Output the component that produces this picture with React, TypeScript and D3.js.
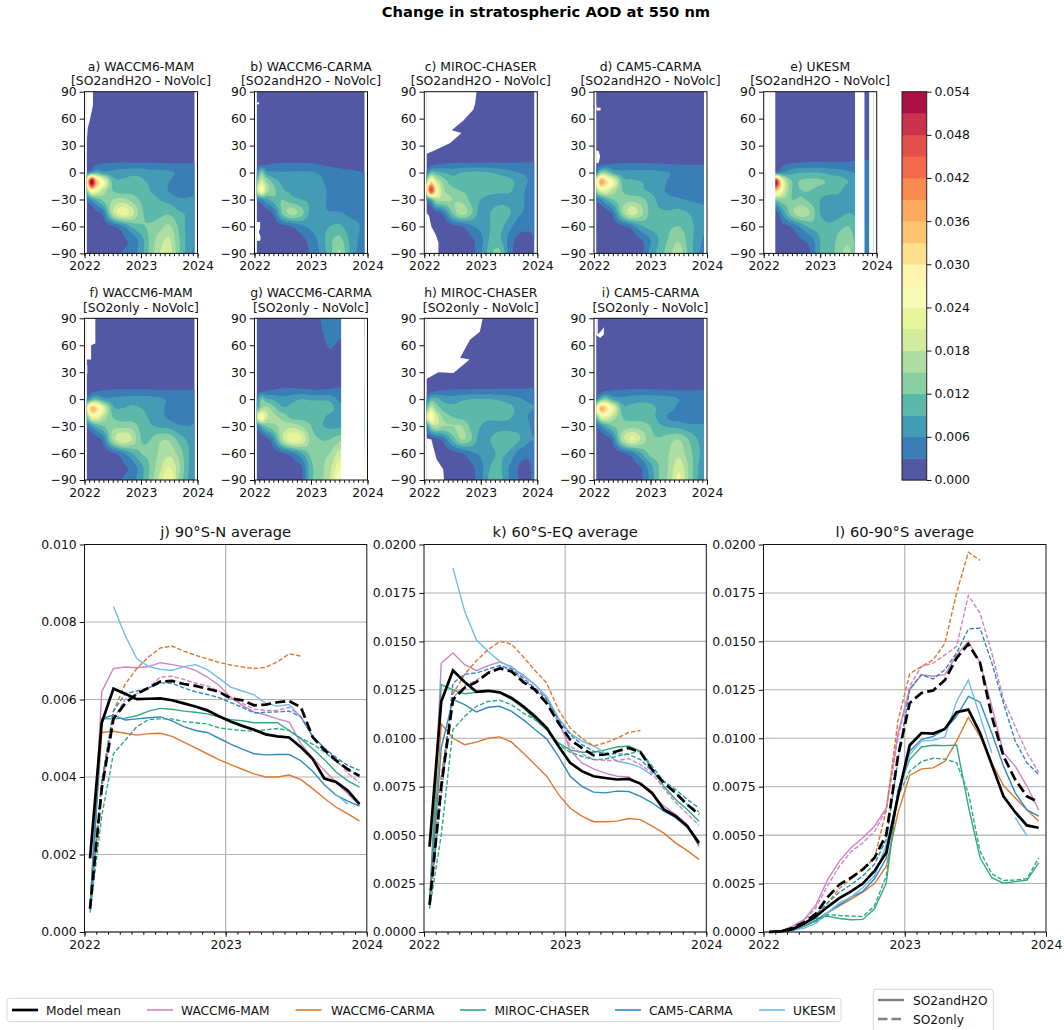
import React, { useEffect, useRef } from 'react';
import * as d3 from 'd3';

// contour levels and colours, AOD in units of 0.001
const bandColors = ['#5358a5', '#3a7eb8', '#439bb5', '#5cb8a8', '#88cfa4', '#addda2', '#d0ec9c', '#e8f59b', '#f8fbb4',
    '#fef5ae', '#fde08b', '#fdc372', '#fdaa60', '#f98a50', '#f4694a', '#e35049', '#cb334c', '#ab1044'];
const colorbarTicks = [0, 0.006, 0.012, 0.018, 0.024, 0.03, 0.036, 0.042, 0.048, 0.054];

const gridMonths = [0.5, 1.5, 2.5, 4, 6, 8, 10, 12, 14, 16, 18, 20, 22, 23.5];
const gridLats = [90, 50, 20, 10, 0, -10, -20, -30, -45, -60, -75, -90];
const quietNorth = [
    [0.6, 0.6, 0.6, 0.6, 0.6, 0.6, 0.6, 0.6, 0.6, 0.6, 0.6, 0.6, 0.6, 0.6],
    [0.6, 0.6, 0.6, 0.6, 0.7, 0.7, 0.7, 0.7, 0.7, 0.7, 0.7, 0.7, 0.7, 0.7],
    [0.8, 0.9, 1, 1.1, 1.2, 1.2, 1.2, 1.2, 1.2, 1.2, 1.2, 1.2, 1.2, 1.2],
];
const carmaSo2North = [
    [0.6, 0.6, 0.6, 0.6, 0.6, 0.7, 0.8, 1, 3, 4, 4, 4, 4, 4],
    [0.6, 0.6, 0.6, 0.6, 0.7, 0.7, 0.7, 0.8, 2, 2.8, 2.3, 2, 2, 2],
    [0.8, 0.9, 1, 1.1, 1.2, 1.2, 1.2, 1.2, 1.2, 1.4, 1.4, 1.4, 1.4, 1.4],
];

const mamBothGrid = [
    [1.5, 2, 2.5, 3, 3.3, 3.4, 3.4, 3.4, 3.3, 3.2, 3.1, 3.1, 3.1, 3.2],
    [4, 8, 10, 7.5, 7, 7.5, 8, 8, 7, 7, 6.5, 5.5, 5.3, 5.4],
    [28, 56, 36, 25, 11, 9.5, 10, 9.5, 8.5, 7.5, 6, 4.8, 4.5, 4.5],
    [14, 28, 24, 17, 12, 10.5, 11, 10.5, 9, 7.8, 5.8, 4.5, 4.4, 4.6],
    [4, 7, 10, 13, 15, 16, 14, 11.5, 10, 9, 8, 6.5, 6.5, 6.8],
    [0.5, 1, 2, 4.5, 17, 22.5, 19.5, 13, 10.5, 11, 11.5, 9.5, 8.5, 7],
    [0.3, 0.5, 0.8, 1.3, 2.6, 5.5, 9.5, 11.5, 12.5, 14, 15.5, 11.5, 8, 6.5],
    [0.2, 0.3, 0.5, 0.8, 1.2, 2.4, 4, 7.5, 13, 16.5, 18.5, 12.5, 8, 6],
    [0.2, 0.3, 0.4, 0.6, 0.9, 3, 4.5, 7.5, 13, 18, 19.5, 13, 7.5, 5.5],
];
const carmaBothGrid = [
    [1.3, 2, 2.4, 3, 3.2, 3.2, 3.2, 3.1, 2.6, 2.3, 2, 2, 1.9, 1.8],
    [6, 13, 7.5, 6.5, 6.2, 6.3, 6.4, 6.3, 5.5, 4.5, 3.8, 3.5, 3.2, 3],
    [13, 20, 15, 11, 8, 8, 8, 7.5, 6.5, 5, 4.2, 3.8, 3.8, 3.5],
    [18, 26, 17, 13, 9.5, 8.5, 8.5, 8, 7, 5.5, 4.5, 4.2, 4, 4],
    [3.5, 6, 8, 10.5, 12, 10, 9, 8.5, 7, 5.5, 5, 4.6, 4.3, 4],
    [0.4, 0.8, 1.5, 3.5, 12.5, 16, 13, 8, 6.5, 6.2, 6.2, 5.5, 5, 4.5],
    [0.3, 0.3, 0.5, 1, 2, 3.3, 5.5, 6.6, 7.5, 9, 9.6, 7.5, 6.3, 5],
    [0.2, 0.2, 0.3, 0.5, 0.8, 1.2, 2, 4.5, 7, 11, 13, 9, 6, 4],
    [0.2, 0.2, 0.3, 0.4, 0.7, 1, 1.5, 3.5, 6.5, 10.5, 15.5, 9.5, 5.5, 3.5],
];
const mirocBothGrid = [
    [1, 1.5, 2.2, 3, 3.2, 3.3, 3.3, 3.4, 3.4, 3.4, 3.3, 3.3, 3.3, 3.3],
    [5, 11, 10, 9, 8, 9, 9.5, 9.5, 9, 8, 7, 6, 5.5, 5.5],
    [18, 30, 20, 14, 10.5, 11, 11.7, 11.8, 11.5, 11, 10, 8, 6, 6],
    [30, 48, 28, 16, 13, 11.8, 11.5, 11, 10.5, 10, 9.5, 7.5, 5.5, 5.5],
    [5, 10, 16, 16, 15, 14, 11, 9, 7.5, 7.5, 8, 7, 5.5, 5],
    [0.3, 0.5, 2, 4, 12, 16.5, 12.5, 7.5, 9, 11.5, 9.5, 6.5, 5.5, 5],
    [0, 0.3, 0.5, 1, 2, 3, 5.5, 7, 9, 10, 7, 4.5, 4, 4],
    [0, 0, 0.3, 0.5, 1, 1.5, 2.5, 5, 9.5, 9.5, 5, 2, 1.5, 3],
    [0, 0, 0.2, 0.4, 0.8, 1.2, 2, 5.5, 11, 13, 5, 1.5, 1.5, 3],
];
const cam5BothGrid = [
    [1, 1.5, 2.3, 3, 3.1, 3.2, 3.2, 3.1, 3, 2.9, 2.8, 2.8, 2.8, 2.9],
    [6, 14, 14, 9, 7, 7, 7, 7, 6.5, 6, 5, 4.3, 3.8, 3.6],
    [24, 38, 32, 24, 11, 9.5, 9, 8.5, 7.5, 5.5, 4.6, 4.2, 4, 4],
    [15, 22, 22, 17, 12, 10, 9.5, 8.5, 7, 5.2, 4.6, 4.2, 4, 4],
    [4, 6, 9, 12, 13.5, 14, 13, 10.5, 8, 7, 6.5, 5.8, 5.5, 5.5],
    [0.5, 0.8, 1.5, 4, 14, 19.5, 16, 11, 9.5, 9.5, 10, 9, 7.5, 6.5],
    [0.3, 0.4, 0.6, 1.2, 2.2, 4.5, 8.5, 10, 10.5, 11.5, 12, 10.5, 8, 6.5],
    [0.2, 0.3, 0.4, 0.7, 1, 1.8, 2.8, 6, 9.5, 12.5, 14.5, 11, 7.5, 5.5],
    [0.2, 0.2, 0.3, 0.5, 0.8, 1.3, 2, 7, 10.5, 14, 17, 11.5, 7, 5],
];
const ukesmBothGrid = [
    [1, 1, 1.5, 2.5, 3.2, 3.4, 3.6, 3.6, 3.6, 3.4, 3.6, 3.9, 4, 4],
    [4, 4, 5, 6.5, 8, 9, 9, 9, 8, 7.5, 6.5, 5.5, 4, 4],
    [35, 45, 54, 24, 12, 12.5, 13, 12.5, 11.5, 10.5, 9, 7, 4, 4],
    [25, 30, 36, 22, 12, 12, 12, 10.5, 10, 9.5, 7, 6, 4, 4],
    [5, 6, 12, 14, 12, 12.5, 11, 9, 8, 8, 7, 6, 5, 5],
    [0.5, 0.8, 1.5, 7, 14, 17, 14.5, 9, 7.5, 8, 9, 8, 5, 5],
    [0.3, 0.4, 0.8, 2, 3.5, 7, 10, 10, 9.5, 11, 12, 9, 5, 5],
    [0.2, 0.3, 0.6, 1, 1.8, 2.8, 4.5, 9, 10, 13, 14, 10, 5, 5],
    [0.2, 0.3, 0.5, 0.8, 1.2, 2, 3, 9, 10.5, 13.5, 16, 10, 5, 5],
];
const mamSo2Grid = [
    [1.2, 1.8, 2.3, 3, 3.2, 3.3, 3.3, 3.3, 3.2, 3.1, 3.1, 3.1, 3.1, 3.2],
    [4.5, 9.5, 11, 7.5, 6.8, 7, 7.5, 7.5, 7, 6.5, 5.5, 5, 4.7, 4.8],
    [22, 35, 32, 22, 10, 9, 9.5, 9, 8, 6.8, 5.2, 4.4, 4.2, 4.2],
    [12, 22, 23, 17, 12, 10.5, 10.5, 10, 8.5, 7, 5.5, 4.5, 4.3, 4.5],
    [3.5, 6.5, 9.5, 12, 14, 14, 14, 11, 9.5, 8.5, 8, 6.5, 6, 6.5],
    [0.5, 0.8, 1.8, 4.5, 15.5, 20.5, 18, 12, 12, 14.5, 14.5, 11, 8.5, 7],
    [0.3, 0.4, 0.8, 1.3, 2.5, 5.5, 9, 12, 13, 15.5, 17, 14, 9.5, 7],
    [0.2, 0.3, 0.5, 0.8, 1.2, 2.4, 4, 8, 12.5, 17, 21, 16, 9.5, 6.5],
    [0.2, 0.3, 0.4, 0.6, 0.9, 3, 4.5, 8, 13, 19, 24, 15, 9, 6],
];
const carmaSo2Grid = [
    [1.2, 1.8, 2.8, 3.2, 3.6, 3.8, 3.6, 3.3, 3.2, 3.4, 3.8, 3.8, 3.8, 3.8],
    [5, 12, 9.5, 8.5, 7, 8, 9, 8.5, 8.5, 8, 5.5, 5.5, 5.5, 5.5],
    [9, 15, 16, 13, 9.5, 10, 10.5, 11, 11, 10.5, 7, 6.5, 6.5, 6.5],
    [20, 27, 19, 16, 14, 11, 11, 11, 10, 8, 6.5, 6.5, 6.5, 6.5],
    [4, 9, 12, 14, 16, 17, 15, 12, 9.5, 8.5, 8.5, 9, 9, 9],
    [0.5, 0.8, 2, 6, 17, 23, 21, 14, 12, 12, 14, 15, 15, 15],
    [0.3, 0.4, 0.8, 1.5, 2.8, 5, 9, 13, 14, 15, 19, 21, 21, 21],
    [0.2, 0.3, 0.5, 0.8, 1.2, 2, 3, 11, 14, 17, 23, 27, 27, 27],
    [0.2, 0.3, 0.4, 0.6, 0.9, 1.5, 2.5, 11, 14, 18, 27, 30, 30, 30],
];
const mirocSo2Grid = [
    [1, 1.5, 2.4, 3, 3.2, 3.3, 3.4, 3.5, 3.5, 3.5, 3.5, 3.4, 3.4, 3.4],
    [5, 10, 10, 8, 7.5, 8.5, 9, 9, 9, 8.5, 7.5, 6.5, 5.5, 5.5],
    [12, 19, 14, 11, 10, 10, 10.5, 11, 11, 10.5, 10, 8, 6.5, 6],
    [21, 27, 20, 14, 12, 11, 10.5, 10, 10, 10, 9.5, 7.5, 6, 5],
    [6, 15, 17, 15, 15, 15, 11, 9, 7.5, 8, 8, 7.5, 6.5, 5],
    [0.3, 0.5, 2, 4, 10, 15, 12, 7.5, 9, 11, 11, 9.5, 6.5, 6],
    [0, 0.2, 0.5, 1, 2, 3, 5.5, 6.5, 8, 9.5, 8.5, 5, 4, 5],
    [0, 0, 0.3, 0.5, 1, 1.5, 2.5, 5, 9, 9.5, 6, 3, 2.2, 4],
    [0, 0, 0.2, 0.4, 0.8, 1.2, 2, 5, 10, 10, 6, 3, 2.2, 4],
];
const cam5So2Grid = [
    [1, 1.5, 2.3, 3, 3.2, 3.3, 3.4, 3.3, 3.2, 3.1, 3, 3, 3, 3.1],
    [5, 11, 13, 8.5, 7, 7.5, 8, 8, 7.5, 7, 6, 4.5, 3.8, 3.8],
    [22, 36, 32, 23, 10.5, 10, 10, 9.5, 8.5, 7, 5.3, 4.3, 4, 4],
    [12, 21, 22, 17, 12, 11, 11, 10, 8, 5.5, 5, 4.5, 4.5, 4.5],
    [3.5, 6, 9, 12, 13, 14, 13.5, 12, 9.5, 8.5, 8, 7, 6.5, 6.5],
    [0.5, 0.8, 1.5, 4.5, 16, 21.5, 17.5, 13, 12.5, 14, 15, 12, 9, 7.5],
    [0.3, 0.4, 0.7, 1.3, 2.5, 5, 9, 13, 13.5, 15, 17, 13.5, 10, 7.5],
    [0.2, 0.3, 0.5, 0.8, 1.2, 2, 3.2, 8, 12.5, 15.5, 20, 15, 9.5, 6.5],
    [0.2, 0.3, 0.4, 0.6, 0.9, 1.5, 2.5, 7, 12.5, 16, 22, 15, 9, 6],
];

// regions below zero / without data, as [month, latitude] outlines
const mamBothGaps = [[[0, 90], [1.8, 90], [1.8, 75], [1.2, 60], [0.7, 50], [0.5, 35], [0, 30]]];
const carmaBothGaps = [
    [[0.3, -55], [1.2, -55], [1.2, -62], [0.9, -66], [1.3, -72], [1.2, -76], [0.5, -76], [0.3, -70]],
    [[0.3, 78], [1, 78], [1, 76], [0.3, 76]],
];
const mirocBothGaps = [
    [[0, 90], [11.1, 90], [10.8, 77], [10.4, 70], [8.3, 58], [5.8, 47], [7.9, 44], [5.5, 33], [1.9, 24], [0, 20]],
    [[0, -42], [1, -48], [1.5, -60], [2.5, -70], [3, -78], [3, -90], [0, -90]],
];
const cam5BothGaps = [
    [[0, 25], [1, 24], [1.3, 18], [1, 11], [0, 10]],
    [[0.3, 80], [0.6, 72], [1.4, 72], [1.4, 69], [0.6, 69], [0.3, 74]],
];
const ukesmGaps = [
    [[0, 90], [2.46, 90], [2.46, -90], [0, -90]],
    [[19.4, 90], [21.4, 90], [21.4, -90], [19.4, -90]],
    [[22.4, 90], [24, 90], [24, -90], [22.4, -90]],
];
const mamSo2Gaps = [
    [[0, 90], [2.3, 90], [2.3, 62], [1.4, 60], [1.4, 44], [0, 44]],
    [[0.3, 38], [0.6, 38], [0.6, 28], [0.3, 28]],
];
const carmaSo2Gaps = [[[18.4, 90], [24, 90], [24, -90], [18.4, -90]]];
const mirocSo2Gaps = [
    [[0, 90], [12.4, 90], [11.8, 75], [9.7, 66], [7.6, 46], [9.6, 44], [6.2, 29], [3, 30], [0, 21]],
    [[0, -43], [1.5, -45], [2.6, -67], [4, -78], [4.2, -90], [0, -90]],
];
const cam5So2Gaps = [[[0.3, 90], [0.8, 90], [0.8, 72], [1.5, 76], [2.1, 80], [2.1, 72], [1.3, 68], [0.3, 72]]];

// j) 90S-N average, units of 0.001
const jMeanBoth = [1.9, 5.4, 6.28, 6.15, 6.01, 6.02, 6.03, 5.98, 5.9, 5.82, 5.72, 5.57, 5.43, 5.32, 5.22, 5.1, 5.05, 5.02, 4.77, 4.47, 3.96, 3.87, 3.65, 3.3];
const jMeanSo2 = [0.6, 3.7, 5.5, 5.9, 6.15, 6.3, 6.46, 6.48, 6.4, 6.35, 6.28, 6.2, 6.03, 5.98, 5.85, 5.87, 5.93, 5.96, 5.8, 5.03, 4.7, 4.43, 4.2, 4.03];
const jMamBoth = [0.6, 6.2, 6.8, 6.84, 6.82, 6.85, 6.95, 6.9, 6.85, 6.75, 6.58, 6.37, 6.06, 5.85, 5.68, 5.6, 5.5, 5.42, 4.86, 4.5, 4.17, 3.87, 3.57, 3.27];
const jMamSo2 = [0.6, 3.7, 5.5, 6, 6.15, 6.3, 6.58, 6.6, 6.52, 6.42, 6.35, 6.22, 6.05, 5.9, 5.75, 5.72, 5.72, 5.8, 5.55, 5.05, 4.75, 4.45, 4.1, 3.85];
const jCarmaBoth = [0.6, 5.15, 5.18, 5.13, 5.08, 5.12, 5.13, 5.05, 4.9, 4.75, 4.6, 4.45, 4.32, 4.2, 4.08, 4, 4, 4.05, 3.93, 3.7, 3.45, 3.22, 3.05, 2.87];
const jCarmaSo2 = [0.6, 3.8, 5.7, 6.4, 6.8, 7.1, 7.33, 7.38, 7.25, 7.14, 7.05, 6.96, 6.89, 6.84, 6.8, 6.83, 6.97, 7.18, 7.12];
const jMirocBoth = [0.6, 5.5, 5.5, 5.52, 5.58, 5.7, 5.77, 5.75, 5.7, 5.67, 5.63, 5.55, 5.48, 5.45, 5.4, 5.4, 5.4, 5.2, 4.99, 4.73, 4.45, 4.13, 3.9, 3.74];
const jMirocSo2 = [0.5, 3, 4.6, 4.95, 5.3, 5.48, 5.5, 5.5, 5.43, 5.4, 5.37, 5.27, 5.23, 5.2, 5.18, 5.22, 5.25, 5.2, 5, 4.85, 4.65, 4.4, 4.2, 4];
const jCam5Both = [0.6, 5.5, 5.6, 5.47, 5.5, 5.53, 5.55, 5.45, 5.3, 5.2, 5.15, 5, 4.85, 4.72, 4.6, 4.57, 4.58, 4.58, 4.42, 4.15, 3.8, 3.53, 3.38, 3.25];
const jCam5So2 = [0.6, 3.9, 5.7, 6.15, 6.22, 6.3, 6.43, 6.42, 6.3, 6.2, 6.13, 6.05, 5.92, 5.8, 5.65, 5.67, 5.68, 5.7, 5.55, 5.05, 4.75, 4.5, 4.3, 4.17];
const jUkesmBoth = [null, null, 8.4, 7.65, 7.05, 6.85, 6.78, 6.75, 6.85, 6.9, 6.77, 6.55, 6.32, 6.22, 6.12, 5.9, 5.83, 5.87, 5.55, 5.05, null, 3.55, 3.3];

// k) 60S-EQ average
const kMeanBoth = [4.4, 11.9, 13.5, 12.9, 12.4, 12.45, 12.37, 12.08, 11.65, 11.13, 10.53, 9.6, 8.73, 8.3, 8.04, 7.95, 7.87, 7.9, 7.66, 7.18, 6.32, 5.98, 5.46, 4.6];
const kMeanSo2 = [1.4, 7.5, 12, 12.6, 12.9, 13.37, 13.6, 13.45, 12.9, 12.5, 11.8, 10.8, 9.93, 9.5, 9.12, 9.16, 9.33, 9.5, 9.28, 8.38, 7.7, 7.18, 6.58, 6.06];
const kMamBoth = [1.4, 13.88, 14.4, 13.8, 13.49, 13.75, 13.93, 13.7, 13.2, 12.77, 12.08, 10.96, 9.4, 8.73, 8.42, 8.2, 8.04, 8, 7.6, 7.1, 6.5, 6.07, 5.55, 4.4];
const kMamSo2 = [1.4, 8, 12.1, 12.7, 13, 13.4, 13.7, 13.5, 13, 12.55, 11.9, 10.8, 9.6, 9.2, 8.9, 8.85, 8.85, 8.95, 8.64, 8.2, 7.4, 6.7, 6.1, 5.5];
const kCarmaBoth = [1.4, 10.74, 10, 9.67, 9.8, 10, 10.07, 9.8, 9.24, 8.64, 8.04, 7.1, 6.4, 5.98, 5.69, 5.69, 5.72, 5.86, 5.8, 5.46, 5.1, 4.6, 4.2, 3.75];
const kCarmaSo2 = [1.4, 8, 12.3, 13.3, 14, 14.57, 15, 14.86, 14.2, 13.5, 12.85, 11.48, 10.53, 10, 9.6, 9.76, 10, 10.3, 10.4];
const kMirocBoth = [1.4, 12.77, 12.5, 12.3, 12.37, 12.42, 12.34, 12, 11.56, 11, 10.45, 9.76, 9.4, 9.28, 9.28, 9.4, 9.55, 9.6, 9.33, 8.4, 7.52, 6.84, 6.32, 5.72];
const kMirocSo2 = [1.2, 5, 10.45, 11.13, 11.65, 11.9, 11.96, 11.73, 11.3, 10.96, 10.45, 9.67, 9.28, 9.07, 8.9, 8.93, 9.07, 9.2, 9.33, 8.56, 7.78, 7.18, 6.58, 6.2];
const kCam5Both = [1.4, 9.5, 12, 11.73, 11.36, 11.6, 11.65, 11.39, 10.96, 10.45, 9.97, 9.07, 8.04, 7.52, 7.22, 7.18, 7.27, 7.25, 7, 6.67, 6.24, 5.9, 5.46, 4.5];
const kCam5So2 = [1.4, 7, 12.85, 13.3, 13.37, 13.57, 13.75, 13.57, 13.1, 12.6, 12, 10.96, 10.2, 9.67, 9.33, 9.2, 9.2, 9.16, 8.9, 8.3, 7.78, 7.35, 6.84, 6.4];
const kUkesmBoth = [null, null, 18.78, 16.55, 15.08, 14.48, 13.97, 13.63, 13.28, 12.77, 12.16, 11.05, 10.27, 9.85, 9.6, 9.24, 8.81, 8.7, 8.5, 8.1, null, 5.9, 5.4];

// l) 60-90S average
const lMeanBoth = [0, 0.03, 0.15, 0.43, 0.8, 1.3, 1.75, 2.1, 2.5, 3.15, 4.1, 7, 9.64, 10.27, 10.24, 10.48, 11.34, 11.48, 10.27, 8.64, 7, 6.18, 5.5, 5.38];
const lMeanSo2 = [0, 0.03, 0.2, 0.5, 0.95, 1.8, 2.45, 2.8, 3.23, 3.83, 5.03, 9.07, 11.82, 12.34, 12.47, 13, 14.14, 14.86, 13.9, 11.13, 9.07, 7.87, 7, 6.7];
const lMamBoth = [0, 0.05, 0.3, 0.65, 1.4, 2.7, 3.66, 4.35, 4.86, 5.46, 6.4, 10.27, 12.5, 13.28, 13.2, 13.28, 14.3, 15, 13.9, 11.65, 9.25, 8.56, 7.52, 6.3];
const lMamSo2 = [0, 0.05, 0.25, 0.6, 1.25, 2.4, 3.4, 4.15, 4.6, 5.2, 6.3, 10, 12.7, 13.7, 13.88, 14.3, 14.74, 17.37, 16.46, 14.4, 12, 10.6, 9.25, 8.25];
const lCarmaBoth = [0, 0.02, 0.1, 0.3, 0.6, 1, 1.35, 1.7, 2.05, 2.5, 3.4, 6.15, 8.08, 8.42, 8.47, 8.81, 9.85, 11.08, 10.1, 8.73, 7.56, 6.92, 6.3, 5.72];
const lCarmaSo2 = [0, 0.03, 0.15, 0.45, 0.9, 1.5, 2.25, 2.75, 3.25, 3.8, 6.3, 10.9, 13.33, 13.7, 14.05, 14.9, 17.5, 19.6, 19.18];
const lMirocBoth = [0, 0.02, 0.1, 0.43, 0.7, 0.82, 0.7, 0.63, 0.65, 1.2, 2.52, 7.35, 8.9, 9.55, 9.64, 9.62, 9.65, 6.5, 3.83, 2.8, 2.52, 2.6, 2.68, 3.57];
const lMirocSo2 = [0, 0.02, 0.1, 0.3, 0.55, 0.9, 0.85, 0.82, 0.8, 1.35, 2.9, 7, 8.3, 8.8, 8.97, 8.93, 8.73, 7.18, 4.17, 3, 2.66, 2.68, 2.75, 3.83];
const lCam5Both = [0, 0.02, 0.1, 0.3, 0.6, 1, 1.4, 1.8, 2.1, 2.75, 3.8, 7.2, 9.33, 9.93, 10.1, 10.45, 11.13, 12.16, 11.86, 10.27, 8.56, 7.18, 6.3, 5.98];
const lCam5So2 = [0, 0.03, 0.15, 0.45, 0.9, 1.5, 2.05, 2.45, 2.9, 3.5, 4.8, 8.9, 12.54, 13.28, 13.06, 13.54, 14.4, 15.64, 15.69, 13.9, 11.8, 9.85, 8.73, 8.13];
const lUkesmBoth = [null, null, 0.08, 0.2, 0.45, 1, 1.5, 1.8, 2.3, 2.9, 4.5, 7, 9.16, 9.85, 9.9, 10.07, 11.9, 13, 11.13, 9.25, null, 5.9, 4.98];

const modelNames = ['WACCM6-MAM', 'WACCM6-CARMA', 'MIROC-CHASER', 'CAM5-CARMA', 'UKESM'];
const modelColors = ['#d084c4', '#e0782f', '#2dab83', '#2f8bc2', '#6fbde9'];
const jTicks = [0, 0.002, 0.004, 0.006, 0.008, 0.01];
const kTicks = [0, 0.0025, 0.005, 0.0075, 0.01, 0.0125, 0.015, 0.0175, 0.02];

const font = 'DejaVu Sans, sans-serif';
const yearFmt = (m: any) => String(2022 + m / 12);
const monthOf = (i: number) => 0.47 + i * 0.996; // x position of the i-th monthly value

// Catmull-Rom through 4 neighbours
function cr(a: number, b: number, c: number, d: number, t: number) {
    return b + 0.5 * t * (c - a + t * (2 * a - 5 * b + 4 * c - d + t * (3 * (b - c) + d - a)));
}

function sampleGrid(grid: number[][], u: number, v: number) {
    const rows = grid.length, cols = grid[0].length;
    const i = Math.min(Math.floor(v), rows - 2), j = Math.min(Math.floor(u), cols - 2);
    const at = (r: number, c: number) => grid[Math.max(0, Math.min(rows - 1, r))][Math.max(0, Math.min(cols - 1, c))];
    const line = (r: number) => cr(at(r, j - 1), at(r, j), at(r, j + 1), at(r, j + 2), u - j);
    return cr(line(i - 1), line(i), line(i + 1), line(i + 2), v - i);
}

function drawContourPanel(svg: any, id: string, left: number, top: number, title: string, sub: string, grid: number[][], north: number[][], gaps: number[][][]) {
    const width = 113, height = 161.7;
    const x = d3.scaleLinear().domain([0, 24]).range([left, left + width]);
    const y = d3.scaleLinear().domain([-90, 90]).range([top + height, top]);
    const full = north.concat(grid);

    const nx = 200, ny = 300;
    const t0 = monthOf(0), t1 = monthOf(23);
    const monthIdx = d3.scaleLinear().domain(gridMonths).range(gridMonths.map((_, i) => i));
    const latIdx = d3.scaleLinear().domain(gridLats).range(gridLats.map((_, i) => i));
    const field = new Array(nx * ny);
    for (let r = 0; r < ny; r++) {
        const lat = 90 - (180 * r) / (ny - 1);
        for (let c = 0; c < nx; c++) {
            const m = t0 + ((t1 - t0) * c) / (nx - 1);
            field[r * nx + c] = sampleGrid(full, monthIdx(m), latIdx(lat));
        }
    }
    const levels = bandColors.map((_, i) => (i === 0 ? -99 : i * 3));
    const contours = d3.contours().size([nx, ny]).thresholds(levels)(field);
    const path = d3.geoPath(d3.geoTransform({
        point(px: number, py: number) {
            (this as any).stream.point(
                x(t0 + ((t1 - t0) * (px - 0.5)) / (nx - 1)),
                y(90 - (180 * (py - 0.5)) / (ny - 1)));
        },
    }));

    const g = svg.append('g');
    g.append('clipPath').attr('id', id).append('rect')
        .attr('x', x(t0)).attr('y', top).attr('width', x(t1) - x(t0)).attr('height', height);
    const plot = g.append('g').attr('clip-path', `url(#${id})`);
    plot.selectAll('path').data(contours).join('path')
        .attr('d', path as any)
        .attr('fill', (_: any, i: number) => bandColors[i]);

    const gapLine = d3.line<number[]>().x(d => x(d[0])).y(d => y(d[1]));
    plot.selectAll('path.gap').data(gaps).join('path').attr('class', 'gap')
        .attr('d', (d: any) => gapLine(d) + 'Z').attr('fill', '#fff');

    drawFrame(g, x, y, [-90, -60, -30, 0, 30, 60, 90], (d: any) => d3.format('d')(d));

    g.append('text').attr('x', left + width / 2).attr('y', top - 21).attr('text-anchor', 'middle')
        .attr('font-family', font).attr('font-size', 12.4).attr('fill', '#111').text(title);
    g.append('text').attr('x', left + width / 2).attr('y', top - 6.5).attr('text-anchor', 'middle')
        .attr('font-family', font).attr('font-size', 12.4).attr('fill', '#111').text(sub);
}

// spines, year ticks, monthly minor ticks and y ticks
function drawFrame(g: any, x: any, y: any, yTicks: number[], yFmt: any) {
    const [x0, x1] = x.range();
    const [y0, y1] = y.range();
    const tickStyle = (a: any) => {
        a.select('.domain').remove();
        a.selectAll('line').attr('stroke', '#111').attr('stroke-width', 1);
        a.selectAll('text').attr('font-family', font).attr('font-size', 12.4).attr('fill', '#111');
    };
    g.append('g').attr('transform', `translate(0,${y0})`)
        .call(d3.axisBottom(x).tickValues(d3.range(0, 25)).tickSize(2.8).tickFormat(() => ''))
        .call(tickStyle);
    g.append('g').attr('transform', `translate(0,${y0})`)
        .call(d3.axisBottom(x).tickValues([0, 12, 24]).tickSize(4.8).tickPadding(3).tickFormat(yearFmt))
        .call(tickStyle);
    g.append('g').attr('transform', `translate(${x0},0)`)
        .call(d3.axisLeft(y).tickValues(yTicks).tickSize(4.8).tickPadding(3).tickFormat(yFmt))
        .call(tickStyle);
    g.append('rect').attr('x', x0).attr('y', y1).attr('width', x1 - x0).attr('height', y0 - y1)
        .attr('fill', 'none').attr('stroke', '#111').attr('stroke-width', 1);
}

function drawLinePanel(svg: any, left: number, right: number, title: string, yMax: number, yTicks: number[], yFmt: any, both: any[][], so2: any[][], meanBoth: number[], meanSo2: number[]) {
    const top = 544.5, bottom = 932;
    const x = d3.scaleLinear().domain([0, 24]).range([left, right]);
    const y = d3.scaleLinear().domain([0, yMax]).range([bottom, top]);
    const g = svg.append('g');

    g.selectAll('line.hgrid').data(yTicks).join('line').attr('class', 'hgrid')
        .attr('x1', left).attr('x2', right).attr('y1', (d: number) => y(d)).attr('y2', (d: number) => y(d))
        .attr('stroke', '#b0b0b0').attr('stroke-width', 1.1);
    g.append('line').attr('x1', x(12)).attr('x2', x(12)).attr('y1', top).attr('y2', bottom)
        .attr('stroke', '#b0b0b0').attr('stroke-width', 1.1);

    const line = d3.line<any>()
        .defined(d => d != null)
        .x((_, i) => x(monthOf(i)))
        .y(d => y(d / 1000));

    both.forEach((vals, i) => {
        g.append('path').attr('d', line(vals)).attr('fill', 'none')
            .attr('stroke', modelColors[i]).attr('stroke-width', 1.4);
    });
    so2.forEach((vals, i) => {
        g.append('path').attr('d', line(vals)).attr('fill', 'none')
            .attr('stroke', modelColors[i]).attr('stroke-width', 1.4).attr('stroke-dasharray', '4.6,2');
    });
    g.append('path').attr('d', line(meanBoth)).attr('fill', 'none').attr('stroke', '#000').attr('stroke-width', 2.7);
    g.append('path').attr('d', line(meanSo2)).attr('fill', 'none').attr('stroke', '#000').attr('stroke-width', 2.7)
        .attr('stroke-dasharray', '10,4.3');

    drawFrame(g, x, y, yTicks, yFmt);
    g.append('text').attr('x', (left + right) / 2).attr('y', 537).attr('text-anchor', 'middle')
        .attr('font-family', font).attr('font-size', 14.7).attr('fill', '#111').text(title);
}

function drawColorbar(svg: any) {
    const left = 902, right = 926.7, top = 91.7, bottom = 480;
    const y = d3.scaleLinear().domain([0, 0.054]).range([bottom, top]);
    const g = svg.append('g');
    g.selectAll('rect').data(bandColors).join('rect')
        .attr('x', left).attr('width', right - left)
        .attr('y', (_: any, i: number) => y((i + 1) * 0.003))
        .attr('height', (_: any, i: number) => y(i * 0.003) - y((i + 1) * 0.003) + 0.4)
        .attr('fill', (d: string) => d);
    const axis = g.append('g').attr('transform', `translate(${right},0)`)
        .call(d3.axisRight(y).tickValues(colorbarTicks).tickSize(4.8).tickPadding(3).tickFormat(d3.format('.3f') as any));
    axis.select('.domain').remove();
    axis.selectAll('line').attr('stroke', '#111');
    axis.selectAll('text').attr('font-family', font).attr('font-size', 12.4).attr('fill', '#111');
    g.append('rect').attr('x', left).attr('y', top).attr('width', right - left).attr('height', bottom - top)
        .attr('fill', 'none').attr('stroke', '#222').attr('stroke-width', 1);
}

function drawLegends(svg: any) {
    const g = svg.append('g').attr('font-family', font).attr('font-size', 12.2).attr('fill', '#111');
    g.append('rect').attr('x', 7).attr('y', 998.3).attr('width', 834).attr('height', 23.4).attr('rx', 3)
        .attr('fill', '#fff').attr('stroke', '#d5d5d5');
    const names = ['Model mean'].concat(modelNames);
    const colors = ['#000'].concat(modelColors);
    const lineStarts = [12, 147, 295.5, 460, 615, 759];
    const textStarts = [46, 181, 331, 494.5, 649, 793];
    names.forEach((name, i) => {
        g.append('line').attr('x1', lineStarts[i]).attr('x2', lineStarts[i] + 26).attr('y1', 1010).attr('y2', 1010)
            .attr('stroke', colors[i]).attr('stroke-width', i === 0 ? 2.7 : 1.6);
        g.append('text').attr('x', textStarts[i]).attr('y', 1014.5).text(name);
    });
    g.append('rect').attr('x', 873.3).attr('y', 989.3).attr('width', 120).attr('height', 45).attr('rx', 3)
        .attr('fill', '#fff').attr('stroke', '#d5d5d5');
    ['SO2andH2O', 'SO2only'].forEach((name, i) => {
        const ly = 1000 + i * 19;
        g.append('line').attr('x1', 878).attr('x2', 904).attr('y1', ly).attr('y2', ly)
            .attr('stroke', '#808080').attr('stroke-width', 2.4)
            .attr('stroke-dasharray', i === 1 ? '9.5,4' : null);
        g.append('text').attr('x', 913).attr('y', ly + 4.5).text(name);
    });
}

const App: React.FC = () => {
    const svgRef = useRef<SVGSVGElement>(null);

    useEffect(() => {
        if (!svgRef.current) return;
        const svg = d3.select(svgRef.current);
        svg.selectAll('*').remove();

        svg.append('text').attr('x', 546).attr('y', 17).attr('text-anchor', 'middle')
            .attr('font-family', font).attr('font-size', 14.7).attr('font-weight', 'bold').attr('fill', '#000')
            .text('Change in stratospheric AOD at 550 nm');

        const both = '[SO2andH2O - NoVolc]', so2 = '[SO2only - NoVolc]';
        const r1 = 91.7, r2 = 318.3;
        drawContourPanel(svg, 'pa', 84.5, r1, 'a) WACCM6-MAM', both, mamBothGrid, quietNorth, mamBothGaps);
        drawContourPanel(svg, 'pb', 254.5, r1, 'b) WACCM6-CARMA', both, carmaBothGrid, quietNorth, carmaBothGaps);
        drawContourPanel(svg, 'pc', 424.3, r1, 'c) MIROC-CHASER', both, mirocBothGrid, quietNorth, mirocBothGaps);
        drawContourPanel(svg, 'pd', 594, r1, 'd) CAM5-CARMA', both, cam5BothGrid, quietNorth, cam5BothGaps);
        drawContourPanel(svg, 'pe', 763.7, r1, 'e) UKESM', both, ukesmBothGrid, quietNorth, ukesmGaps);
        drawContourPanel(svg, 'pf', 84.5, r2, 'f) WACCM6-MAM', so2, mamSo2Grid, quietNorth, mamSo2Gaps);
        drawContourPanel(svg, 'pg', 254.5, r2, 'g) WACCM6-CARMA', so2, carmaSo2Grid, carmaSo2North, carmaSo2Gaps);
        drawContourPanel(svg, 'ph', 424.3, r2, 'h) MIROC-CHASER', so2, mirocSo2Grid, quietNorth, mirocSo2Gaps);
        drawContourPanel(svg, 'pi', 594, r2, 'i) CAM5-CARMA', so2, cam5So2Grid, quietNorth, cam5So2Gaps);
        drawColorbar(svg);

        const fmt3 = d3.format('.3f'), fmt4 = d3.format('.4f');
        drawLinePanel(svg, 84.5, 366.8, 'j) 90°S-N average', 0.01, jTicks, fmt3,
            [jMamBoth, jCarmaBoth, jMirocBoth, jCam5Both, jUkesmBoth],
            [jMamSo2, jCarmaSo2, jMirocSo2, jCam5So2], jMeanBoth, jMeanSo2);
        drawLinePanel(svg, 424, 706.3, 'k) 60°S-EQ average', 0.02, kTicks, fmt4,
            [kMamBoth, kCarmaBoth, kMirocBoth, kCam5Both, kUkesmBoth],
            [kMamSo2, kCarmaSo2, kMirocSo2, kCam5So2], kMeanBoth, kMeanSo2);
        drawLinePanel(svg, 763.5, 1046, 'l) 60-90°S average', 0.02, kTicks, fmt4,
            [lMamBoth, lCarmaBoth, lMirocBoth, lCam5Both, lUkesmBoth],
            [lMamSo2, lCarmaSo2, lMirocSo2, lCam5So2], lMeanBoth, lMeanSo2);

        drawLegends(svg);
    }, []);

    return (
        <svg ref={svgRef} width={1064} height={1030}
             style={{ position: 'absolute', left: 0, top: 0, background: '#fff' }}></svg>
    );
};

export default App;
